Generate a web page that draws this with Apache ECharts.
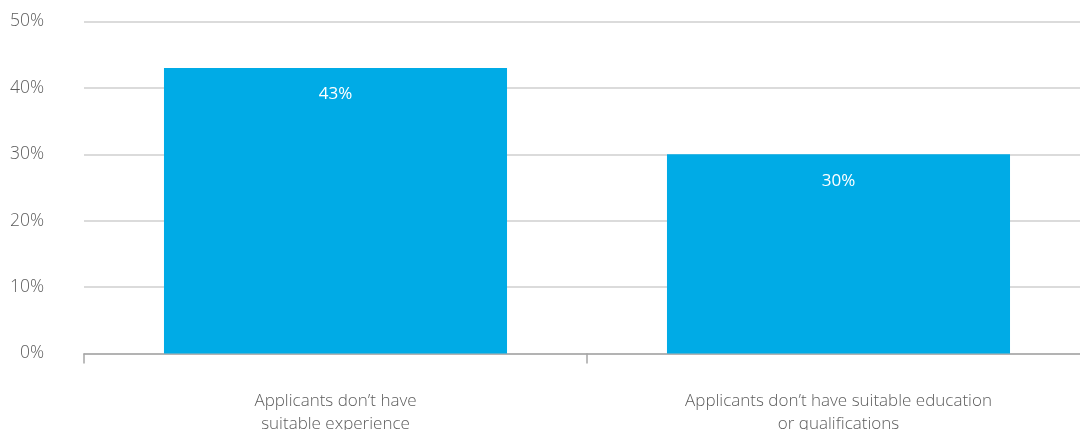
<!DOCTYPE html>
<html>
<head>
<meta charset="utf-8">
<script src="https://cdn.jsdelivr.net/npm/echarts@6/dist/echarts.min.js"></script>
<style>
  html, body { margin: 0; padding: 0; background: #fff; }
  #chart { width: 1080px; height: 430px; }
</style>
</head>
<body>
<div id="chart"></div>
<script>
// Reasons given for applicant shortfalls (share of respondents, %)
const categories = [
  'Applicants don\u2019t have\nsuitable experience',
  'Applicants don\u2019t have suitable education\nor qualifications'
];
const values = [43, 30];
const yTicks = [0, 10, 20, 30, 40, 50];

const chart = echarts.init(document.getElementById('chart'));
const font = '"Open Sans", "Noto Sans", sans-serif';

chart.setOption({
  animation: false,
  grid: {
    left: 84, top: 21.5, width: 1006, height: 332,
    containLabel: false, outerBoundsMode: 'none'
  },
  xAxis: {
    type: 'category',
    data: categories,
    axisLine: { show: true, lineStyle: { color: '#a6a6a6', width: 1.5 } },
    axisTick: { show: true, length: 10, lineStyle: { color: '#a6a6a6', width: 1.5 } },
    axisLabel: {
      color: '#5c5c5c', fontSize: 17, fontFamily: font, fontWeight: 300,
      lineHeight: 23, margin: 36, align: 'center'
    }
  },
  yAxis: {
    type: 'value',
    min: yTicks[0],
    max: yTicks[yTicks.length - 1],
    interval: 10,
    axisLine: { show: false },
    axisTick: { show: false },
    splitLine: { lineStyle: { color: '#cfcfcf', width: 1.5 } },
    axisLabel: {
      color: '#5c5c5c', fontSize: 17.5, fontFamily: font, fontWeight: 300, margin: 40,
      formatter: v => v + '%'
    }
  },
  series: [{
    type: 'bar',
    data: values,
    barCategoryGap: '31.8%',
    itemStyle: { color: '#00abe6' },
    label: {
      show: true,
      position: 'insideTop',
      distance: 18,
      color: '#ffffff',
      fontSize: 17,
      fontFamily: font,
      formatter: p => p.value + '%'
    }
  }]
});
</script>
</body>
</html>
